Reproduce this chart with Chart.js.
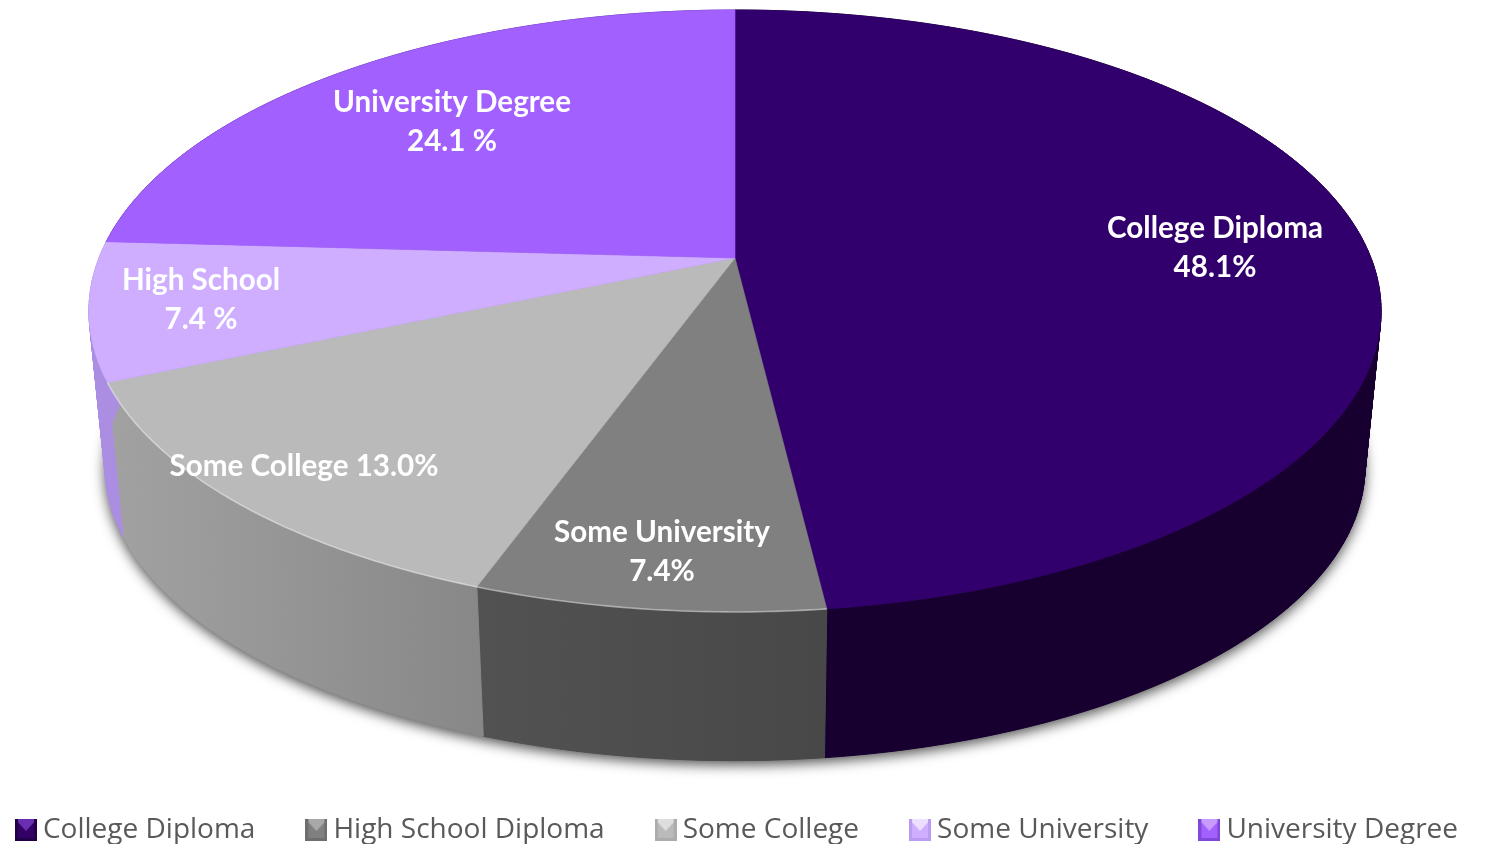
<!DOCTYPE html>
<html>
<head>
<meta charset="utf-8">
<title>Education pie</title>
<script src="https://cdn.jsdelivr.net/npm/chart.js@4/dist/chart.umd.min.js"></script>
<style>
  html, body { margin: 0; padding: 0; background: #fff; overflow: hidden; }
  canvas { display: block; }
</style>
</head>
<body>
<canvas id="pie3d" width="1499" height="844"></canvas>
<script>
// chart data
var categories = ['College Diploma', 'High School Diploma', 'Some College', 'Some University', 'University Degree'];
var shares = [48.1, 7.4, 13.0, 7.4, 24.1];
var sliceTexts = [
    ['College Diploma', '48.1%'],
    ['Some University', '7.4%'],
    ['Some College 13.0%'],
    ['High School', '7.4 %'],
    ['University Degree', '24.1 %']
];

// colours
var topColors = ['#32006c', '#808080', '#bababa', '#cfaeff', '#a260ff'];
var wallColors = [['#170030', '#170030'], ['#525252', '#484848'], ['#a2a2a2', '#888888'], ['#ab8ee2', '#ab8ee2'], ['#5a34a0', '#5a34a0']];
var markerColors = [['#6a2fb0', '#330066', '#220048'], ['#a8a8a8', '#808080', '#6e6e6e'], ['#dedede', '#bababa', '#acacac'], ['#ecdfff', '#cfaeff', '#bb9cf0'], ['#c79bff', '#a260ff', '#7f48d8']];

// where the slice texts sit (centre x, first line y)
var textSpots = [[1215, 228], [662, 532], [304, 466], [201, 280], [452, 102]];

// perspective of the disc, worked out from the rim of the picture
var view = { cx: 735, rx: 636, tilt: 0.176, ya: 246.24, yb: 258, wallScale: 0.975, wallShift: 164 };

function topPoint(angle) {
    var u = Math.cos(angle), v = Math.sin(angle), w = 1 - view.tilt * v;
    return [view.cx + view.rx * u / w, (view.ya * v + view.yb) / w];
}

function bottomPoint(angle) {
    var p = topPoint(angle);
    return [view.cx + (p[0] - view.cx) * view.wallScale, p[1] * view.wallScale + view.wallShift];
}

function arcSteps(start, end) {
    var n = Math.max(2, Math.ceil((end - start) * 90)), out = [];
    for (var i = 0; i <= n; i++) {
        out.push(start + (end - start) * i / n);
    }
    return out;
}

function tracePath(ctx, pts) {
    ctx.beginPath();
    pts.forEach(function(p, i) {
        if (i == 0) ctx.moveTo(p[0], p[1]); else ctx.lineTo(p[0], p[1]);
    });
    ctx.closePath();
}

function makeMarker(c) {
    var s = 22, m = document.createElement('canvas');
    m.width = s; m.height = s;
    var g = m.getContext('2d');
    g.fillStyle = c[1];
    g.fillRect(0, 0, s, s);
    g.fillStyle = c[0];
    tracePath(g, [[0, 0], [s, 0], [s / 2, s * 0.55]]);
    g.fill();
    g.fillStyle = c[2];
    tracePath(g, [[0, 0], [3, 0], [3, s - 3], [s - 3, s - 3], [s - 3, 0], [s, 0], [s, s], [0, s]]);
    g.fill();
    return m;
}

var markers = markerColors.map(makeMarker);

var pie3dPlugin = {
    id: 'pie3d',
    beforeDatasetDraw: function(chart, args) {
        var ctx = chart.ctx;
        var arcs = args.meta.data;

        // shadow under the base
        ctx.save();
        ctx.shadowColor = 'rgba(0,0,0,0.7)';
        ctx.shadowBlur = 13;
        ctx.shadowOffsetY = 4;
        ctx.fillStyle = '#555';
        tracePath(ctx, arcSteps(-Math.PI / 2, Math.PI * 1.5).map(bottomPoint));
        ctx.fill();
        ctx.restore();

        // walls
        arcs.forEach(function(arc, i) {
            var steps = arcSteps(arc.startAngle, arc.endAngle);
            var xs = steps.map(function(a) { return topPoint(a)[0]; });
            var grad = ctx.createLinearGradient(Math.min.apply(null, xs), 0, Math.max.apply(null, xs), 0);
            grad.addColorStop(0, wallColors[i][0]);
            grad.addColorStop(1, wallColors[i][1]);
            ctx.fillStyle = grad;
            ctx.strokeStyle = grad;
            ctx.lineWidth = 1;
            for (var k = 0; k < steps.length - 1; k++) {
                tracePath(ctx, [topPoint(steps[k]), topPoint(steps[k + 1]), bottomPoint(steps[k + 1]), bottomPoint(steps[k])]);
                ctx.fill();
                ctx.stroke();
            }
        });

        // top faces
        arcs.forEach(function(arc) {
            var pts = arcSteps(arc.startAngle, arc.endAngle).map(topPoint);
            pts.push([view.cx, view.yb]);
            tracePath(ctx, pts);
            ctx.fillStyle = arc.options.backgroundColor;
            ctx.strokeStyle = arc.options.backgroundColor;
            ctx.lineWidth = 0.6;
            ctx.fill();
            ctx.stroke();
        });

        // bright rim on the front edge of the grey slices
        ctx.strokeStyle = 'rgba(255,255,255,0.4)';
        ctx.lineWidth = 1.6;
        [1, 2].forEach(function(i) {
            var pts = arcSteps(arcs[i].startAngle, arcs[i].endAngle).map(topPoint);
            ctx.beginPath();
            pts.forEach(function(p, k) {
                if (k == 0) ctx.moveTo(p[0], p[1]); else ctx.lineTo(p[0], p[1]);
            });
            ctx.stroke();
        });

        return false;
    },
    afterDatasetsDraw: function(chart) {
        var ctx = chart.ctx;
        ctx.save();
        ctx.fillStyle = '#fff';
        ctx.font = 'bold 29.6px Lato';
        ctx.textAlign = 'center';
        ctx.textBaseline = 'middle';
        sliceTexts.forEach(function(lines, i) {
            lines.forEach(function(line, k) {
                ctx.fillText(line, textSpots[i][0], textSpots[i][1] + k * 39);
            });
        });
        ctx.restore();
    }
};

new Chart(document.getElementById('pie3d'), {
    type: 'pie',
    data: {
        labels: categories,
        datasets: [{ data: shares, backgroundColor: topColors, borderWidth: 0 }]
    },
    options: {
        responsive: false,
        devicePixelRatio: 1,
        animation: false,
        // the legend row is wider than its wrap test allows, so let its box run off the canvas
        layout: { padding: { left: -38, right: -20, bottom: -10 } },
        plugins: {
            tooltip: { enabled: false },
            legend: {
                position: 'bottom',
                labels: {
                    color: '#595959',
                    font: { family: 'Open Sans', size: 28 },
                    usePointStyle: true,
                    pointStyleWidth: 6,
                    padding: 58,
                    generateLabels: function(chart) {
                        var items = Chart.overrides.pie.plugins.legend.labels.generateLabels(chart);
                        items.forEach(function(item, i) { item.pointStyle = markers[i]; });
                        return items;
                    }
                }
            }
        }
    },
    plugins: [pie3dPlugin]
});
</script>
</body>
</html>
